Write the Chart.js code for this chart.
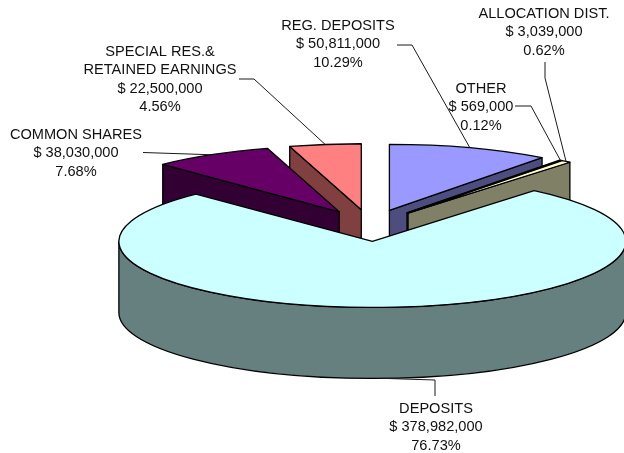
<!DOCTYPE html>
<html>
<head>
<meta charset="utf-8">
<style>
  html, body { margin: 0; padding: 0; background: #fff; }
  canvas { display: block; }
</style>
<script src="https://cdn.jsdelivr.net/npm/chart.js@4"></script>
</head>
<body>
<canvas id="chart" width="624" height="453"></canvas>
<script>
// Balance sheet breakdown, clockwise from twelve o'clock.
const categories = [
  ['REG. DEPOSITS'],
  ['OTHER'],
  ['ALLOCATION DIST.'],
  ['DEPOSITS'],
  ['COMMON SHARES'],
  ['SPECIAL RES.&', 'RETAINED EARNINGS']
];
const values = [50811000, 569000, 3039000, 378982000, 38030000, 22500000];
const percentLabels = ['10.29%', '0.12%', '0.62%', '76.73%', '7.68%', '4.56%'];
const topColors = ['#9999FF', '#993366', '#FFFFCC', '#CCFFFF', '#660066', '#FF8080'];
const wallColors = ['#4D4D80', '#4D1A33', '#808066', '#668080', '#330033', '#804040'];

// Back-to-front painting order of the slices.
const paintOrder = [5, 4, 0, 1, 2, 3];

// Projection of the tilted pie.
const pie = { cx: 370, cy: 225.5, rx: 253.5, ry: 66, depth: 71, explode: 0.241 };

// Label block: centre x, y of first line. Leader: polyline leading to the slice.
const labelLayout = [
  { x: 338, y: 26,  leader: [[397, 45], [412, 45]] },
  { x: 481, y: 88.7, leader: [[515, 106], [531, 106]] },
  { x: 544, y: 13.7, leader: [[545, 62], [545, 78]] },
  { x: 436, y: 408.7, leader: [[435, 396], [435, 380]], onBase: true },
  { x: 76,  y: 134.7, leader: [[143, 152.5]] },
  { x: 160, y: 51.7, leader: [[239, 79], [254, 79]] }
];

const lineHeight = 18.4;

function sliceGeometry(arc) {
  const { startAngle, endAngle } = arc.getProps(['startAngle', 'endAngle'], true);
  const mid = (startAngle + endAngle) / 2;
  return {
    start: startAngle,
    end: endAngle,
    mid,
    ox: pie.cx + Math.cos(mid) * pie.explode * pie.rx,
    oy: pie.cy + Math.sin(mid) * pie.explode * pie.ry
  };
}

function rimPoint(g, t) {
  return [g.ox + Math.cos(t) * pie.rx, g.oy + Math.sin(t) * pie.ry];
}

function drawCutFace(ctx, g, t, color) {
  const p = rimPoint(g, t);
  ctx.beginPath();
  ctx.moveTo(g.ox, g.oy);
  ctx.lineTo(p[0], p[1]);
  ctx.lineTo(p[0], p[1] + pie.depth);
  ctx.lineTo(g.ox, g.oy + pie.depth);
  ctx.closePath();
  ctx.fillStyle = color;
  ctx.fill();
  ctx.stroke();
}

function drawRimFace(ctx, g, color) {
  const a = Math.max(g.start, 0);
  const b = Math.min(g.end, Math.PI);
  if (b <= a) return;
  ctx.beginPath();
  ctx.ellipse(g.ox, g.oy, pie.rx, pie.ry, 0, a, b);
  ctx.ellipse(g.ox, g.oy + pie.depth, pie.rx, pie.ry, 0, b, a, true);
  ctx.closePath();
  ctx.fillStyle = color;
  ctx.fill();
  ctx.stroke();
}

const tiltedPie = {
  id: 'tiltedPie',
  beforeDatasetsDraw(chart) {
    const ctx = chart.ctx;
    const arcs = chart.getDatasetMeta(0).data;
    ctx.save();
    ctx.lineWidth = 1.3;
    ctx.strokeStyle = '#000';
    ctx.lineJoin = 'round';
    paintOrder.forEach((i) => {
      const arc = arcs[i];
      const g = sliceGeometry(arc);
      const eps = 1e-6;

      if (Math.cos(g.start) < -eps) drawCutFace(ctx, g, g.start, wallColors[i]);
      if (Math.cos(g.end) > eps) drawCutFace(ctx, g, g.end, wallColors[i]);
      drawRimFace(ctx, g, wallColors[i]);

      // The library fills the sector; the transform flattens it into the tilted plane.
      ctx.save();
      ctx.translate(g.ox, g.oy);
      ctx.scale(pie.rx / arc.outerRadius, pie.ry / arc.outerRadius);
      ctx.translate(-arc.x, -arc.y);
      arc.draw(ctx);
      ctx.restore();

      ctx.beginPath();
      ctx.moveTo(g.ox, g.oy);
      ctx.ellipse(g.ox, g.oy, pie.rx, pie.ry, 0, g.start, g.end);
      ctx.closePath();
      ctx.stroke();
    });
    ctx.restore();
    return false;
  },
  afterDraw(chart) {
    const ctx = chart.ctx;
    const arcs = chart.getDatasetMeta(0).data;
    ctx.save();
    ctx.strokeStyle = '#1a1a1a';
    ctx.lineWidth = 1;
    labelLayout.forEach((layout, i) => {
      const g = sliceGeometry(arcs[i]);
      const tip = rimPoint(g, g.mid);
      if (layout.onBase) tip[1] += pie.depth;
      ctx.beginPath();
      layout.leader.forEach((p, k) => (k ? ctx.lineTo(p[0], p[1]) : ctx.moveTo(p[0], p[1])));
      ctx.lineTo(tip[0], tip[1]);
      ctx.stroke();
    });
    ctx.fillStyle = '#111';
    ctx.font = '14.6px "Liberation Sans", Arial, sans-serif';
    ctx.textAlign = 'center';
    ctx.textBaseline = 'middle';
    const money = new Intl.NumberFormat('en-US');
    labelLayout.forEach((layout, i) => {
      const lines = [...categories[i], '$ ' + money.format(values[i]), percentLabels[i]];
      lines.forEach((text, k) => ctx.fillText(text, layout.x, layout.y + k * lineHeight));
    });
    ctx.restore();
  }
};

new Chart(document.getElementById('chart'), {
  type: 'pie',
  data: {
    labels: categories.map((c) => c.join(' ')),
    datasets: [{
      data: values,
      backgroundColor: topColors,
      borderWidth: 0,
      hoverOffset: 0
    }]
  },
  options: {
    responsive: false,
    animation: false,
    radius: pie.rx,
    events: [],
    layout: { padding: 0 },
    plugins: { legend: { display: false }, tooltip: { enabled: false } }
  },
  plugins: [tiltedPie]
});
</script>
</body>
</html>
